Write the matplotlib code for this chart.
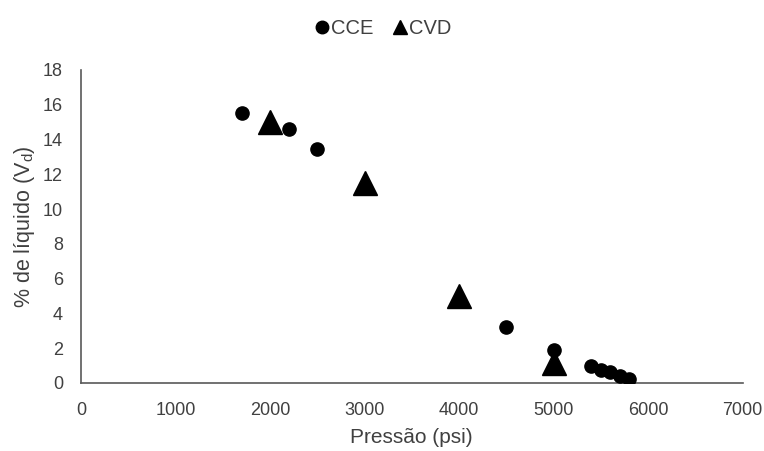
import matplotlib
matplotlib.use("Agg")
import matplotlib.pyplot as plt
from matplotlib.lines import Line2D

plt.rcParams['font.family'] = ['Liberation Sans', 'DejaVu Sans']

cce_x = [1700, 2200, 2500, 3000, 4500, 5000, 5400, 5500, 5600, 5700, 5800]
cce_y = [15.55, 14.6, 13.45, 11.2, 3.2, 1.9, 0.95, 0.72, 0.6, 0.42, 0.25]
cvd_x = [2000, 3000, 4000, 5000]
cvd_y = [15.0, 11.5, 5.0, 1.15]

fig = plt.figure(figsize=(7.64, 4.51), dpi=100)
ax = fig.add_axes([0.106, 0.151, 0.866, 0.694])

ax.plot(cce_x, cce_y, 'o', color='black', markersize=9.5, zorder=3)
ax.plot(cvd_x, cvd_y, '^', color='black', markersize=17, zorder=3)

ax.set_xlim(0, 7000)
ax.set_ylim(0, 18)
ax.set_xticks(range(0, 7001, 1000))
ax.set_yticks(range(0, 19, 2))
ax.tick_params(length=0, labelsize=13, colors='#404040')
ax.tick_params(axis='x', pad=14)
ax.tick_params(axis='y', pad=13)
for s in ['top', 'right']:
    ax.spines[s].set_visible(False)
for s in ['left', 'bottom']:
    ax.spines[s].set_color('#595959')
    ax.spines[s].set_linewidth(1.2)

ax.set_xlabel('Pressão (psi)', fontsize=15, color='#404040', labelpad=6)
ax.set_ylabel('% de líquido (V$_\\mathregular{d}$)', fontsize=15.5, color='#404040', labelpad=4)

handles = [
    Line2D([], [], marker='o', color='black', linestyle='none', markersize=9),
    Line2D([], [], marker='^', color='black', linestyle='none', markersize=10.5),
]
leg = fig.legend(handles, ['CCE', 'CVD'], loc='center', bbox_to_anchor=(0.5, 0.937), ncol=2,
                 frameon=False, fontsize=14.5, handletextpad=0.0, columnspacing=0.9,
                 handlelength=0.9)
for t in leg.get_texts():
    t.set_color('#404040')

fig.savefig('out.png', dpi=100)
